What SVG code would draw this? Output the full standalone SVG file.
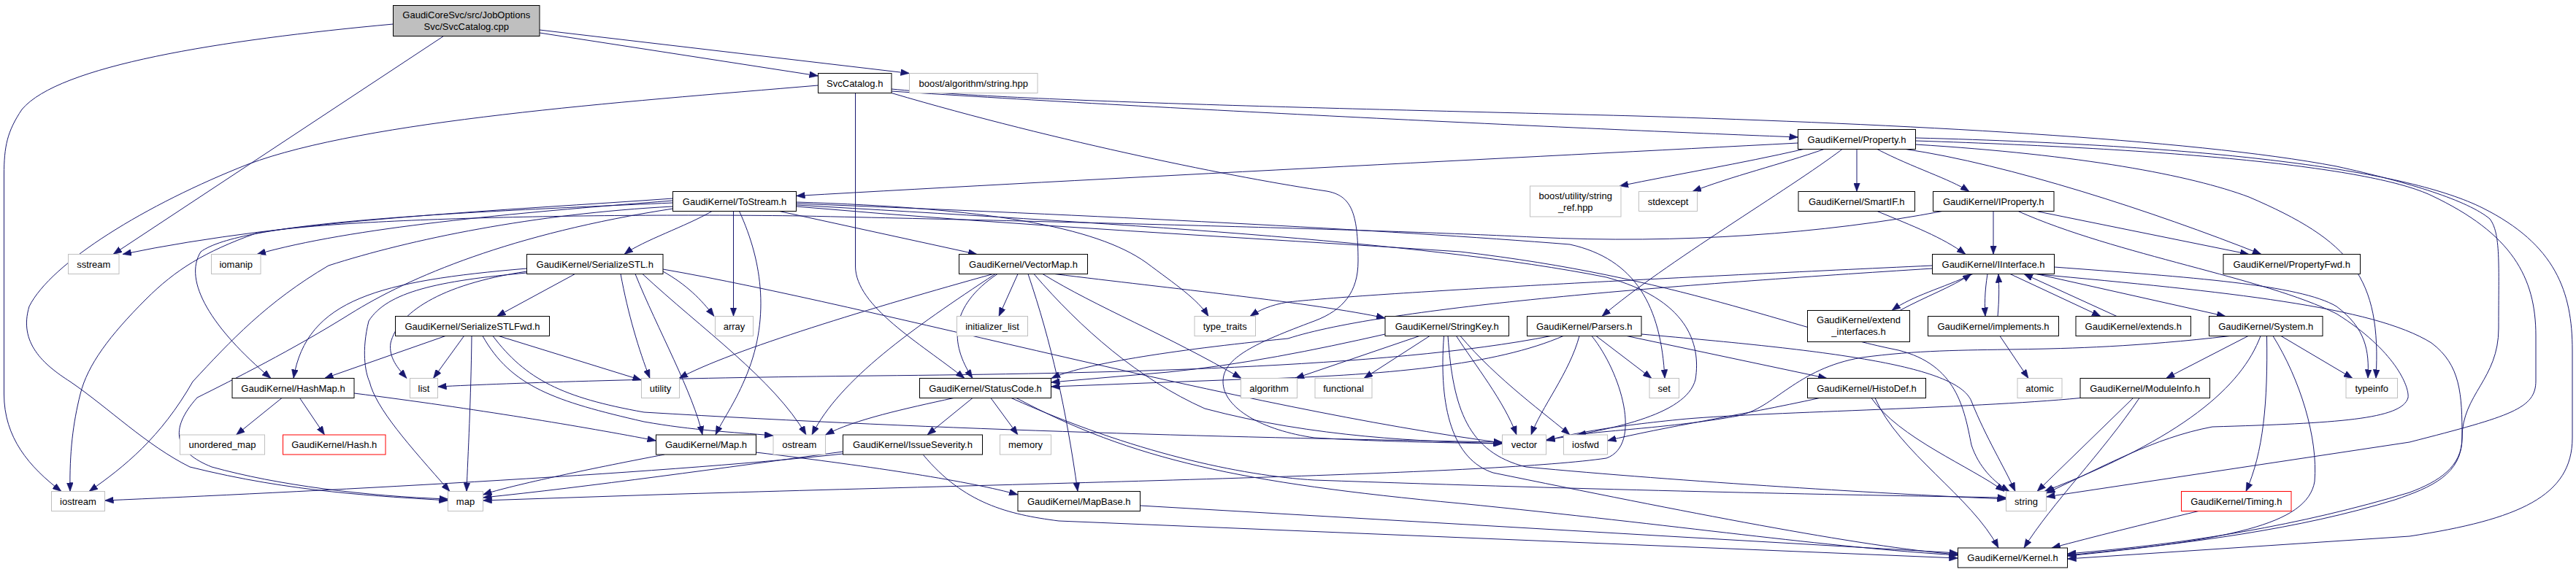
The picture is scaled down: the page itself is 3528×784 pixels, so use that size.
<svg xmlns="http://www.w3.org/2000/svg" width="3528" height="784" viewBox="0 0 3528 784">
<style>
.nb{fill:#fff;stroke:#000;stroke-width:1}
.ng{fill:#fff;stroke:#bfbfbf;stroke-width:1}
.nr{fill:#fff;stroke:#f00;stroke-width:1}
.root{fill:#bfbfbf;stroke:#000;stroke-width:1}
text{font-family:"Liberation Sans",Arial,Helvetica,sans-serif;font-size:13px;fill:#000;text-anchor:middle}
.e path{fill:none;stroke:#191970;stroke-width:1;marker-end:url(#a)}
</style>
<defs>
<marker id="a" viewBox="0 0 12 9" refX="12" refY="4.5" markerWidth="12" markerHeight="9" markerUnits="userSpaceOnUse" orient="auto">
<path d="M0,0 L12,4.5 L0,9 z" fill="#191970" stroke="#191970" stroke-width="0.5"/>
</marker>
</defs>
<rect x="0" y="0" width="3528" height="784" fill="#fff"/>
<g id="edges" class="e">
<path d="M739,45 L1120.5,104"/>
<path d="M739,41 L1245.5,100.5"/>
<path d="M538.5,33 C300,55 80,90 30,150 C10,180 5.5,200 5.5,240 L5.5,540 C5.5,600 40,640 84,673.5"/>
<path d="M607.5,49.5 L155,348.5"/>
<path d="M1120.5,117 C850,140 500,165 340,225 C200,280 70,360 40,420 C25,470 60,500 96,523 C150,560 200,610 260,640 C400,675 520,680 613.5,686"/>
<path d="M1171.5,127.5 L1171.5,365 C1172,420 1260,470 1321,518.5"/>
<path d="M1221,125 C1600,150 2200,178 2462.5,188"/>
<path d="M1221,122 C1400,140 1900,150 2242,159 C2600,170 3000,190 3200,228 C3300,250 3380,275 3410,300 C3425,320 3422,360 3422,450 C3422,520 3372,540 3372,600 C3372,640 3340,660 3300,675 C3150,720 3000,745 2831.5,759"/>
<path d="M1221,127.5 C1450,195 1700,245 1817,262 C1850,268 1860,290 1860,358 C1860,400 1840,425 1800,440 C1720,470 1675,490 1675,523 C1675,560 1730,590 1800,600 C1900,606 2000,607 2057.5,608"/>
<path d="M2462.5,196 C2100,215 1500,245 1090.5,268.5"/>
<path d="M2470,204.5 C2380,225 2300,238 2218,255"/>
<path d="M2498,204.5 C2440,225 2370,242 2318,262.5"/>
<path d="M2523,204.5 C2450,260 2280,360 2194,433.5"/>
<path d="M2543,204.5 L2543,262.5"/>
<path d="M2571,204.5 C2620,230 2670,245 2697,262.5"/>
<path d="M2610,204.5 C2750,225 2950,290 3097,348.5"/>
<path d="M2623.5,198 C2850,212 3000,240 3080,270 C3220,330 3262,380 3254,518.5"/>
<path d="M2623.5,193 C3000,205 3250,230 3330,268 C3440,320 3473,380 3473,460 L3473,522 C3473,560 3440,570 3300,606 L2802.5,681"/>
<path d="M2623.5,189 C3050,200 3300,235 3400,285 C3500,335 3523,400 3523,480 L3523,600 C3523,680 3450,712 3300,735 L2831.5,766"/>
<path d="M921.5,272 C700,288 400,300 168,348.5"/>
<path d="M921.5,275 C700,292 480,312 352,348.5"/>
<path d="M975,289.5 C940,310 880,330 855,348.5"/>
<path d="M1067.5,289.5 L1338,348.5"/>
<path d="M1004.5,289.5 L1004.5,433.5"/>
<path d="M921.5,278 C600,292 330,305 275,345 C250,385 290,450 371,518.5"/>
<path d="M1012.5,289.5 C1045,360 1055,440 1020,520 C1005,555 990,575 980,596"/>
<path d="M921.5,283 C731,293 562,328 450,364 C365,414 315,468 264,523 C220,600 170,640 122,673.5"/>
<path d="M921.5,286 C700,320 560,380 480,430 C400,480 320,520 270,545 C230,590 240,620 290,640 C380,665 500,680 613.5,684"/>
<path d="M1090.5,277 C1350,285 1500,310 1570,360 C1610,390 1640,410 1655,433.5"/>
<path d="M1090.5,279 C1500,295 1900,315 2150,335 C2240,355 2275,420 2280,518.5"/>
<path d="M1090.5,281 C1500,305 1950,330 2200,380 C2310,410 2330,470 2322,520 C2310,570 2200,590 2117.5,603"/>
<path d="M1090.5,283 C1400,310 1700,325 2000,345 C2300,380 2450,450 2600,480 C2680,500 2690,560 2700,610 C2710,640 2730,660 2752,673.5"/>
<path d="M2660,289.5 C2500,320 2300,335 2100,325 C1900,315 1500,305 1100,296 C800,292 450,300 350,320 C280,345 240,370 200,410 C150,460 120,500 110,540 C100,580 95,620 96,673.5"/>
<path d="M2730,289.5 L2730,348.5"/>
<path d="M2789,289.5 L3080,348.5"/>
<path d="M2764,289.5 C2900,350 3100,380 3200,430 C3280,480 3300,530 3298,545 C3290,575 3200,580 3030,585 C2950,600 2880,640 2802.5,676"/>
<path d="M2646.5,364 C2300,380 1900,400 1764,414 C1740,418 1725,425 1712,433.5"/>
<path d="M2646.5,368 C2300,390 1900,420 1764,464 C1600,480 1480,500 1440,518.5"/>
<path d="M2702,375.5 C2660,395 2620,405 2591,425.5"/>
<path d="M2602,425.5 C2640,405 2670,395 2700,375.5"/>
<path d="M2722,375.5 C2718,400 2718,420 2719,433.5"/>
<path d="M2736,433.5 C2738,410 2738,395 2737,375.5"/>
<path d="M2753,375.5 L2877,433.5"/>
<path d="M2899,433.5 L2772,375.5"/>
<path d="M2789,375.5 L3048,433.5"/>
<path d="M2813.5,366 C3000,380 3150,390 3200,420 C3240,450 3245,480 3243,518.5"/>
<path d="M2786.5,375.5 C3050,400 3250,420 3330,470 C3370,500 3372,540 3372,600 C3372,650 3330,668 3280,685 C3150,725 3000,745 2831.5,761"/>
<path d="M2571,289.5 C2620,310 2660,325 2692,348.5"/>
<path d="M787.5,375.5 L680.5,433.5"/>
<path d="M721.5,368 C520,385 420,410 402,518.5"/>
<path d="M721.5,372 C600,390 545,430 535,470 C532,490 545,505 557,518.5"/>
<path d="M721.5,374 C600,385 530,400 505,440 C495,480 500,510 506,523 C515,560 560,610 616,673.5"/>
<path d="M850,375.5 C860,430 875,480 890,518.5"/>
<path d="M908,372 C940,390 960,410 978,433.5"/>
<path d="M870,375.5 C900,450 950,540 962,596"/>
<path d="M880,375.5 C960,450 1060,520 1104,596"/>
<path d="M908,369 C1200,420 1700,560 2057.5,607"/>
<path d="M610,460.5 L444.5,518.5"/>
<path d="M635.5,460.5 L593.5,518.5"/>
<path d="M646,460.5 C645,550 641,620 639,673.5"/>
<path d="M683,460.5 L878.5,521"/>
<path d="M661,460.5 C700,530 760,550 882,578 C950,590 1000,592 1059,597"/>
<path d="M675,460.5 C720,520 770,545 882,565 C1300,590 1700,600 2057.5,606"/>
<path d="M1360,375.5 C1200,420 1000,480 930,518.5"/>
<path d="M1363,375.5 C1250,450 1150,520 1112,596"/>
<path d="M1366,375.5 C1300,420 1300,470 1332,518.5"/>
<path d="M1394,375.5 L1368,433.5"/>
<path d="M1408,375.5 C1440,470 1460,560 1476,673.5"/>
<path d="M1416,375.5 C1480,450 1560,520 1650,560 C1800,600 1950,605 2057.5,608"/>
<path d="M1428,375.5 C1500,420 1600,460 1700,518.5"/>
<path d="M1444.5,375.5 C1600,395 1800,415 1897,436"/>
<path d="M1944,460.5 L1774,518.5"/>
<path d="M1958,460.5 L1868,518.5"/>
<path d="M1994.5,460.5 C2020,500 2060,550 2077,596"/>
<path d="M2000,460.5 C2050,520 2120,570 2150,596"/>
<path d="M1983,460.5 C1990,560 2010,620 2090,640 C2300,660 2600,678 2747.5,684"/>
<path d="M1977.5,460.5 C1970,560 1990,630 2045,648 C2300,700 2550,750 2681.5,760"/>
<path d="M1897,458 C1800,480 1700,500 1600,510 L1439.5,524"/>
<path d="M2124,460.5 C1900,505 1500,512 1200,515 C900,518 700,525 599.5,530"/>
<path d="M2141,460.5 C2050,500 1900,515 1700,520 L1439.5,530"/>
<path d="M2163,460.5 C2150,510 2110,560 2097,596"/>
<path d="M2180,460.5 C2220,510 2250,610 2200,628 C2050,650 1500,660 900,678 L661.5,686"/>
<path d="M2186,460.5 L2262,518.5"/>
<path d="M2228,460.5 L2502,518.5"/>
<path d="M2248,458 C2500,480 2680,500 2700,550 C2720,600 2745,640 2760,673.5"/>
<path d="M3079,460.5 L2966.5,518.5"/>
<path d="M3096,460.5 C3070,530 2990,600 2800,673.5"/>
<path d="M3104.5,460.5 C3106,550 3100,620 3076,673.5"/>
<path d="M3113,460.5 C3150,520 3175,600 3170,660 C3160,720 3050,740 2831.5,762"/>
<path d="M3124,460.5 L3222,518.5"/>
<path d="M3054,460.5 C2800,490 2700,470 2550,490 C2460,505 2430,560 2380,570 C2300,585 2200,590 2160,596"/>
<path d="M2849,545.5 C2700,560 2400,565 2300,575 C2200,585 2150,595 2117.5,604"/>
<path d="M2921.5,545.5 L2790,673.5"/>
<path d="M2930,545.5 C2880,620 2810,690 2772,751"/>
<path d="M2492,545.5 C2380,570 2280,585 2201.5,604"/>
<path d="M2563,545.5 C2600,600 2700,640 2745,673.5"/>
<path d="M2568,545.5 C2600,620 2700,680 2737,751"/>
<path d="M3011,700.5 C2930,720 2870,735 2810,751"/>
<path d="M2739,460.5 L2778,518.5"/>
<path d="M386,545.5 L323.5,596"/>
<path d="M410.5,545.5 L444.5,596"/>
<path d="M485,539 C650,560 800,585 898.5,604"/>
<path d="M1035.5,620 C1200,640 1330,660 1394,678"/>
<path d="M910,623 C820,640 700,665 661.5,678"/>
<path d="M1306,545.5 C1240,560 1170,575 1130.5,596"/>
<path d="M1332,545.5 L1270,596"/>
<path d="M1357,545.5 L1394,596"/>
<path d="M1385,545.5 C1550,620 1700,652 1800,658 C2200,672 2500,678 2747.5,682"/>
<path d="M1392,545.5 C1550,630 1700,662 2000,690 C2300,720 2500,750 2681.5,761"/>
<path d="M1154.5,622 C900,650 400,675 143.5,686"/>
<path d="M1154.5,619 C1000,640 800,668 661.5,682"/>
<path d="M1264.5,623.5 C1320,690 1380,705 1450,714 L2681.5,765"/>
<path d="M1561.5,693 L2681.5,758"/>
</g>
<g id="n_cpp"><rect class="root" x="538.5" y="7.5" width="200.5" height="42"/><text x="638.75" y="25">GaudiCoreSvc/src/JobOptions</text><text x="638.75" y="41">Svc/SvcCatalog.cpp</text></g>
<g id="n_svccatalog_h"><rect class="nb" x="1120.5" y="100.5" width="100.5" height="27"/><text x="1170.75" y="118.5">SvcCatalog.h</text></g>
<g id="n_boost_alg"><rect class="ng" x="1245.5" y="100.5" width="175.5" height="27"/><text x="1333.25" y="118.5">boost/algorithm/string.hpp</text></g>
<g id="n_property"><rect class="nb" x="2462.5" y="177.5" width="161" height="27"/><text x="2543" y="195.5">GaudiKernel/Property.h</text></g>
<g id="n_tostream"><rect class="nb" x="921.5" y="262.5" width="169" height="27"/><text x="1006" y="280.5">GaudiKernel/ToStream.h</text></g>
<g id="n_string_ref"><rect class="ng" x="2095.5" y="255" width="124.5" height="42"/><text x="2157.75" y="273">boost/utility/string</text><text x="2157.75" y="289">_ref.hpp</text></g>
<g id="n_stdexcept"><rect class="ng" x="2244.5" y="262.5" width="80" height="27"/><text x="2284.5" y="280.5">stdexcept</text></g>
<g id="n_smartif"><rect class="nb" x="2463" y="262.5" width="159.5" height="27"/><text x="2542.75" y="280.5">GaudiKernel/SmartIF.h</text></g>
<g id="n_iproperty"><rect class="nb" x="2647.5" y="262.5" width="165.5" height="27"/><text x="2730.25" y="280.5">GaudiKernel/IProperty.h</text></g>
<g id="n_sstream"><rect class="ng" x="93.5" y="348.5" width="69.5" height="27"/><text x="128.25" y="366.5">sstream</text></g>
<g id="n_iomanip"><rect class="ng" x="289.5" y="348.5" width="67.5" height="27"/><text x="323.25" y="366.5">iomanip</text></g>
<g id="n_serializestl"><rect class="nb" x="721.5" y="348.5" width="186.5" height="27"/><text x="814.75" y="366.5">GaudiKernel/SerializeSTL.h</text></g>
<g id="n_vectormap"><rect class="nb" x="1313.5" y="348.5" width="176" height="27"/><text x="1401.5" y="366.5">GaudiKernel/VectorMap.h</text></g>
<g id="n_iinterface"><rect class="nb" x="2646.5" y="348.5" width="167" height="27"/><text x="2730" y="366.5">GaudiKernel/IInterface.h</text></g>
<g id="n_propertyfwd"><rect class="nb" x="3045" y="348.5" width="187.5" height="27"/><text x="3138.75" y="366.5">GaudiKernel/PropertyFwd.h</text></g>
<g id="n_serializestlfwd"><rect class="nb" x="541.5" y="433.5" width="211" height="27"/><text x="647" y="451.5">GaudiKernel/SerializeSTLFwd.h</text></g>
<g id="n_array"><rect class="ng" x="979.5" y="433.5" width="52" height="27"/><text x="1005.5" y="451.5">array</text></g>
<g id="n_initializer_list"><rect class="ng" x="1310.5" y="433.5" width="97" height="27"/><text x="1359" y="451.5">initializer_list</text></g>
<g id="n_type_traits"><rect class="ng" x="1636" y="433.5" width="83.5" height="27"/><text x="1677.75" y="451.5">type_traits</text></g>
<g id="n_stringkey"><rect class="nb" x="1897" y="433.5" width="169.5" height="27"/><text x="1981.75" y="451.5">GaudiKernel/StringKey.h</text></g>
<g id="n_parsers"><rect class="nb" x="2091.5" y="433.5" width="156.5" height="27"/><text x="2169.75" y="451.5">GaudiKernel/Parsers.h</text></g>
<g id="n_extend_interfaces"><rect class="nb" x="2475.5" y="425.5" width="140" height="43"/><text x="2545.5" y="443">GaudiKernel/extend</text><text x="2545.5" y="459">_interfaces.h</text></g>
<g id="n_implements"><rect class="nb" x="2640.5" y="433.5" width="179" height="27"/><text x="2730" y="451.5">GaudiKernel/implements.h</text></g>
<g id="n_extends"><rect class="nb" x="2843" y="433.5" width="157.5" height="27"/><text x="2921.75" y="451.5">GaudiKernel/extends.h</text></g>
<g id="n_system"><rect class="nb" x="3025.5" y="433.5" width="155.5" height="27"/><text x="3103.25" y="451.5">GaudiKernel/System.h</text></g>
<g id="n_hashmap"><rect class="nb" x="318" y="518.5" width="167" height="27"/><text x="401.5" y="536.5">GaudiKernel/HashMap.h</text></g>
<g id="n_list"><rect class="ng" x="561.5" y="518.5" width="38" height="27"/><text x="580.5" y="536.5">list</text></g>
<g id="n_utility"><rect class="ng" x="878.5" y="518.5" width="52" height="27"/><text x="904.5" y="536.5">utility</text></g>
<g id="n_statuscode"><rect class="nb" x="1259.5" y="518.5" width="180" height="27"/><text x="1349.5" y="536.5">GaudiKernel/StatusCode.h</text></g>
<g id="n_algorithm"><rect class="ng" x="1699.5" y="518.5" width="77" height="27"/><text x="1738" y="536.5">algorithm</text></g>
<g id="n_functional"><rect class="ng" x="1801" y="518.5" width="78" height="27"/><text x="1840" y="536.5">functional</text></g>
<g id="n_set"><rect class="ng" x="2259" y="518.5" width="40.5" height="27"/><text x="2279.25" y="536.5">set</text></g>
<g id="n_histodef"><rect class="nb" x="2475.5" y="518.5" width="162" height="27"/><text x="2556.5" y="536.5">GaudiKernel/HistoDef.h</text></g>
<g id="n_atomic"><rect class="ng" x="2763" y="518.5" width="61" height="27"/><text x="2793.5" y="536.5">atomic</text></g>
<g id="n_moduleinfo"><rect class="nb" x="2849" y="518.5" width="177.5" height="27"/><text x="2937.75" y="536.5">GaudiKernel/ModuleInfo.h</text></g>
<g id="n_typeinfo"><rect class="ng" x="3213" y="518.5" width="70.5" height="27"/><text x="3248.25" y="536.5">typeinfo</text></g>
<g id="n_unordered_map"><rect class="ng" x="246.5" y="596" width="116" height="27"/><text x="304.5" y="614">unordered_map</text></g>
<g id="n_hash"><rect class="nr" x="387.5" y="596" width="140.5" height="27"/><text x="457.75" y="614">GaudiKernel/Hash.h</text></g>
<g id="n_map_h"><rect class="nb" x="898.5" y="596" width="137" height="27"/><text x="967" y="614">GaudiKernel/Map.h</text></g>
<g id="n_ostream"><rect class="ng" x="1059" y="596" width="71.5" height="27"/><text x="1094.75" y="614">ostream</text></g>
<g id="n_issueseverity"><rect class="nb" x="1154.5" y="596" width="191" height="27"/><text x="1250" y="614">GaudiKernel/IssueSeverity.h</text></g>
<g id="n_memory"><rect class="ng" x="1369.5" y="596" width="70" height="27"/><text x="1404.5" y="614">memory</text></g>
<g id="n_vector"><rect class="ng" x="2057.5" y="596" width="60" height="27"/><text x="2087.5" y="614">vector</text></g>
<g id="n_iosfwd"><rect class="ng" x="2141.5" y="596" width="60" height="27"/><text x="2171.5" y="614">iosfwd</text></g>
<g id="n_iostream"><rect class="ng" x="70.5" y="673.5" width="73" height="27"/><text x="107" y="691.5">iostream</text></g>
<g id="n_map"><rect class="ng" x="613.5" y="673.5" width="48" height="27"/><text x="637.5" y="691.5">map</text></g>
<g id="n_mapbase"><rect class="nb" x="1394" y="673.5" width="167.5" height="27"/><text x="1477.75" y="691.5">GaudiKernel/MapBase.h</text></g>
<g id="n_string"><rect class="ng" x="2747.5" y="673.5" width="55" height="27"/><text x="2775" y="691.5">string</text></g>
<g id="n_timing"><rect class="nr" x="2987.5" y="673.5" width="150.5" height="27"/><text x="3062.75" y="691.5">GaudiKernel/Timing.h</text></g>
<g id="n_kernel"><rect class="nb" x="2681.5" y="751" width="150" height="27"/><text x="2756.5" y="769">GaudiKernel/Kernel.h</text></g>
</svg>
